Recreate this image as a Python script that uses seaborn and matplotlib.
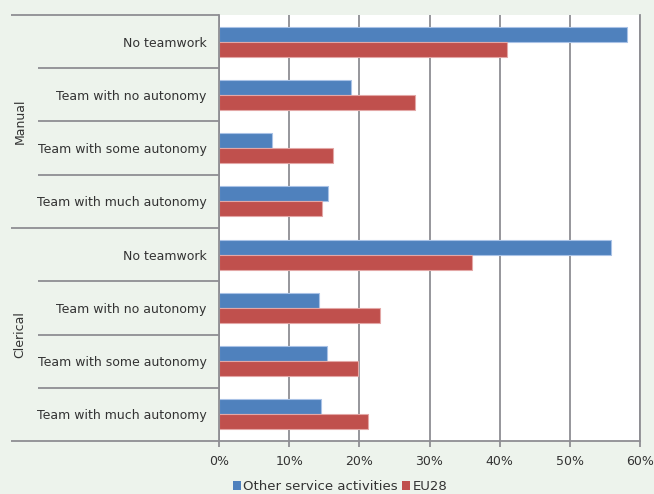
import matplotlib
matplotlib.use("Agg")
import matplotlib.pyplot as plt
import matplotlib.transforms as mtransforms
from matplotlib.patches import Patch
import pandas as pd
import seaborn as sns

# Job groups and teamwork categories (top to bottom)
groups = ["Manual", "Clerical"]
categories = ["No teamwork", "Team with no autonomy",
              "Team with some autonomy", "Team with much autonomy"]
series = ["Other service activities", "EU28"]

# Shares of workers (%)
manual_other = [58.1, 18.8, 7.6, 15.6]
manual_eu28 = [41.1, 27.9, 16.3, 14.7]
clerical_other = [55.9, 14.2, 15.4, 14.6]
clerical_eu28 = [36.0, 23.0, 19.8, 21.3]

values = {
    ("Manual", "Other service activities"): manual_other,
    ("Manual", "EU28"): manual_eu28,
    ("Clerical", "Other service activities"): clerical_other,
    ("Clerical", "EU28"): clerical_eu28,
}

rows = []
for g in groups:
    for i, c in enumerate(categories):
        for s in series:
            rows.append({"key": f"{g}|{c}", "category": c, "group": g,
                         "series": s, "value": values[(g, s)][i]})
df = pd.DataFrame(rows)
order = [f"{g}|{c}" for g in groups for c in categories]

bg = "#EDF3EC"
grid_col = "#8E8E93"
text_col = "#333333"
colors = {"Other service activities": "#4F81BD", "EU28": "#C0504D"}
edges = {"Other service activities": "#A9C2E6", "EU28": "#E3A7A6"}

sns.set_theme(style="white")
plt.rcParams["font.family"] = ["DejaVu Sans"]

fig = plt.figure(figsize=(6.54, 4.94), dpi=100, facecolor=bg)
ax = fig.add_axes([219 / 654, 1 - 441 / 494, 421 / 654, 426 / 494])
ax.set_facecolor("white")

sns.barplot(data=df, y="key", x="value", hue="series", order=order,
            hue_order=series, palette=colors, orient="h", width=0.56,
            legend=False, ax=ax, saturation=1)

for patch_group, s in zip(ax.containers, series):
    for bar in patch_group:
        bar.set_edgecolor(edges[s])
        bar.set_linewidth(0.8)

ax.set_xlim(0, 60)
ax.set_ylim(len(order) - 0.5, -0.5)
ax.set_xticks(range(0, 61, 10))
ax.set_xticklabels([f"{t}%" for t in range(0, 61, 10)], fontsize=9, color=text_col)
ax.set_yticks(range(len(order)))
ax.set_yticklabels([k.split("|")[1] for k in order], fontsize=9, color=text_col)
ax.set_xlabel("")
ax.set_ylabel("")

ax.xaxis.grid(True, color=grid_col, linewidth=1.3)
ax.set_axisbelow(True)
ax.tick_params(axis="x", length=4, width=1.3, color=grid_col, pad=6, bottom=True)
ax.tick_params(axis="y", length=0, pad=9)

ax.spines["top"].set_visible(False)
for side in ["left", "bottom", "right"]:
    ax.spines[side].set_color(grid_col)
    ax.spines[side].set_linewidth(1.3)

# Category separators in the label area
trans = mtransforms.blended_transform_factory(ax.transAxes, ax.transData)
x_short = (38 - 219) / 421
x_long = (11 - 219) / 421
for k in range(len(order) + 1):
    y = k - 0.5
    x0 = x_long if k % len(categories) == 0 else x_short
    ax.plot([x0, 0], [y, y], transform=trans, color=grid_col,
            linewidth=1.3, clip_on=False, solid_capstyle="butt")

# Group labels
for gi, g in enumerate(groups):
    yc = gi * len(categories) + (len(categories) - 1) / 2
    ax.text((20 - 219) / 421, yc, g, transform=trans, rotation=90,
            ha="center", va="center", fontsize=9, color=text_col)

handles = [Patch(facecolor=colors[s], edgecolor="none") for s in series]
fig.legend(handles, series, loc="center", bbox_to_anchor=(0.52, 0.015),
           ncol=2, frameon=False, fontsize=9.5, handlelength=0.6,
           handleheight=0.6, handletextpad=0.2, columnspacing=0.3,
           labelcolor=text_col)

fig.savefig("out.png", dpi=100, facecolor=bg)
